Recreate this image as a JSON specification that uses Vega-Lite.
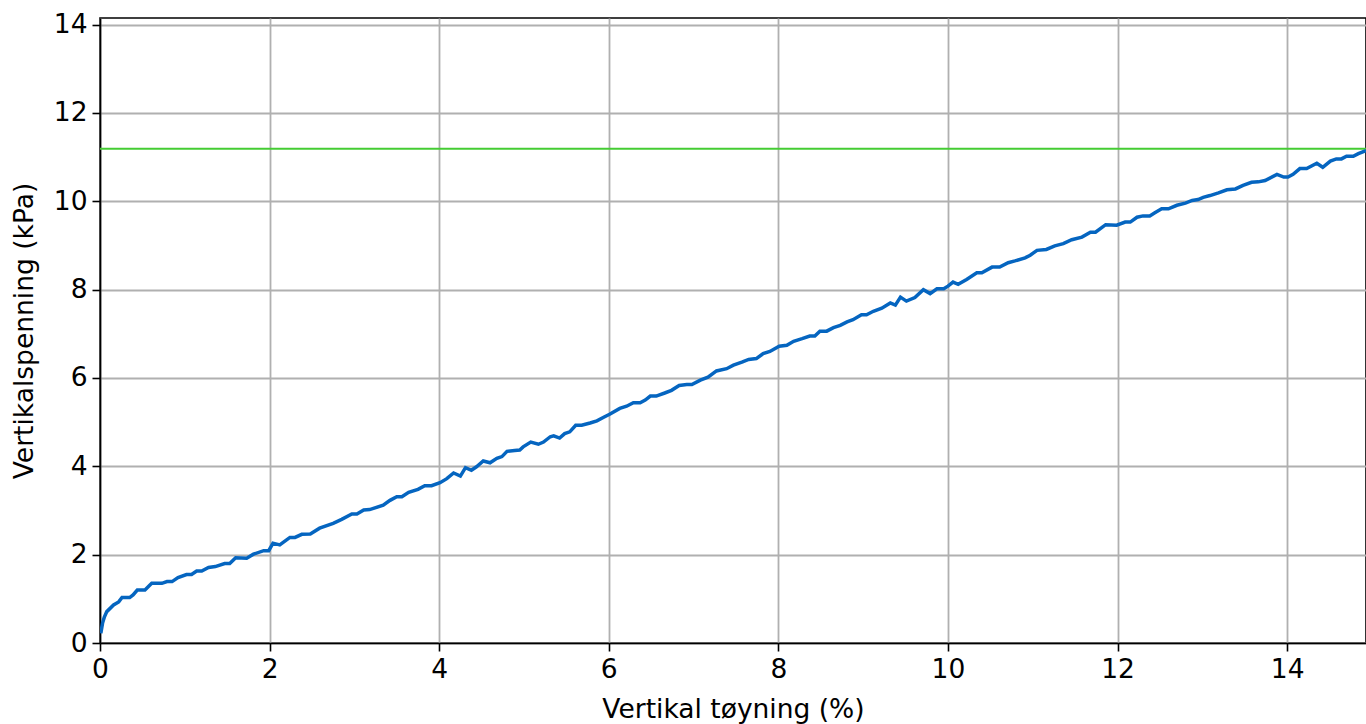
{
  "$schema": "https://vega.github.io/schema/vega-lite/v6.json",
  "width": 1266,
  "height": 625,
  "autosize": "none",
  "padding": {"left": 100, "top": 18, "right": 0, "bottom": 81},
  "background": "white",
  "config": {
    "font": "DejaVu Sans",
    "view": {"stroke": "black", "strokeWidth": 1.6},
    "axis": {
      "domainColor": "black",
      "domainWidth": 1.6,
      "tickColor": "black",
      "tickWidth": 1.6,
      "tickSize": 8,
      "labelFont": "DejaVu Sans",
      "labelFontSize": 26.5,
      "labelColor": "black",
      "labelPadding": 5,
      "labelFlush": false,
      "labelOverlap": false,
      "titleFont": "DejaVu Sans",
      "titleFontSize": 26.5,
      "titleFontWeight": "normal",
      "titleColor": "black",
      "gridColor": "#b0b0b0",
      "gridWidth": 1.8,
      "gridOpacity": 1
    }
  },
  "datasets": {
    "curve": [
      {"strain": 0.01, "stress": 0.22}, {"strain": 0.03, "stress": 0.45}, {"strain": 0.05, "stress": 0.58}, {"strain": 0.08, "stress": 0.71},
      {"strain": 0.16, "stress": 0.86}, {"strain": 0.22, "stress": 0.93}, {"strain": 0.26, "stress": 1.03}, {"strain": 0.35, "stress": 1.03},
      {"strain": 0.39, "stress": 1.09}, {"strain": 0.44, "stress": 1.2}, {"strain": 0.53, "stress": 1.2}, {"strain": 0.61, "stress": 1.35},
      {"strain": 0.73, "stress": 1.35}, {"strain": 0.79, "stress": 1.39}, {"strain": 0.85, "stress": 1.39}, {"strain": 0.92, "stress": 1.48},
      {"strain": 1.02, "stress": 1.55}, {"strain": 1.08, "stress": 1.55}, {"strain": 1.14, "stress": 1.63}, {"strain": 1.2, "stress": 1.63},
      {"strain": 1.28, "stress": 1.71}, {"strain": 1.36, "stress": 1.73}, {"strain": 1.47, "stress": 1.8}, {"strain": 1.53, "stress": 1.8},
      {"strain": 1.6, "stress": 1.93}, {"strain": 1.73, "stress": 1.92}, {"strain": 1.81, "stress": 2.01}, {"strain": 1.93, "stress": 2.09},
      {"strain": 1.99, "stress": 2.09}, {"strain": 2.04, "stress": 2.26}, {"strain": 2.12, "stress": 2.22}, {"strain": 2.24, "stress": 2.39},
      {"strain": 2.3, "stress": 2.39}, {"strain": 2.38, "stress": 2.46}, {"strain": 2.48, "stress": 2.47}, {"strain": 2.59, "stress": 2.6},
      {"strain": 2.75, "stress": 2.71}, {"strain": 2.85, "stress": 2.8}, {"strain": 2.97, "stress": 2.92}, {"strain": 3.03, "stress": 2.92},
      {"strain": 3.11, "stress": 3.01}, {"strain": 3.18, "stress": 3.02}, {"strain": 3.34, "stress": 3.12}, {"strain": 3.42, "stress": 3.23},
      {"strain": 3.5, "stress": 3.31}, {"strain": 3.56, "stress": 3.31}, {"strain": 3.64, "stress": 3.41}, {"strain": 3.75, "stress": 3.48},
      {"strain": 3.83, "stress": 3.56}, {"strain": 3.91, "stress": 3.56}, {"strain": 4.01, "stress": 3.63}, {"strain": 4.09, "stress": 3.72},
      {"strain": 4.17, "stress": 3.85}, {"strain": 4.25, "stress": 3.78}, {"strain": 4.31, "stress": 3.97}, {"strain": 4.38, "stress": 3.91},
      {"strain": 4.44, "stress": 3.99}, {"strain": 4.52, "stress": 4.12}, {"strain": 4.6, "stress": 4.08}, {"strain": 4.68, "stress": 4.18},
      {"strain": 4.74, "stress": 4.22}, {"strain": 4.8, "stress": 4.34}, {"strain": 4.89, "stress": 4.36}, {"strain": 4.95, "stress": 4.37},
      {"strain": 4.99, "stress": 4.44}, {"strain": 5.08, "stress": 4.55}, {"strain": 5.17, "stress": 4.5}, {"strain": 5.23, "stress": 4.55},
      {"strain": 5.31, "stress": 4.67}, {"strain": 5.35, "stress": 4.69}, {"strain": 5.42, "stress": 4.64}, {"strain": 5.48, "stress": 4.74},
      {"strain": 5.54, "stress": 4.78}, {"strain": 5.61, "stress": 4.93}, {"strain": 5.68, "stress": 4.93}, {"strain": 5.78, "stress": 4.98},
      {"strain": 5.86, "stress": 5.03}, {"strain": 5.94, "stress": 5.11}, {"strain": 6.01, "stress": 5.18}, {"strain": 6.13, "stress": 5.31},
      {"strain": 6.21, "stress": 5.36}, {"strain": 6.29, "stress": 5.44}, {"strain": 6.37, "stress": 5.44}, {"strain": 6.43, "stress": 5.5},
      {"strain": 6.49, "stress": 5.59}, {"strain": 6.56, "stress": 5.59}, {"strain": 6.66, "stress": 5.66}, {"strain": 6.74, "stress": 5.72},
      {"strain": 6.83, "stress": 5.83}, {"strain": 6.92, "stress": 5.85}, {"strain": 6.98, "stress": 5.85}, {"strain": 7.08, "stress": 5.95},
      {"strain": 7.17, "stress": 6.02}, {"strain": 7.27, "stress": 6.16}, {"strain": 7.39, "stress": 6.21}, {"strain": 7.47, "stress": 6.29},
      {"strain": 7.57, "stress": 6.36}, {"strain": 7.65, "stress": 6.42}, {"strain": 7.74, "stress": 6.44}, {"strain": 7.82, "stress": 6.55},
      {"strain": 7.9, "stress": 6.6}, {"strain": 8.01, "stress": 6.72}, {"strain": 8.1, "stress": 6.74}, {"strain": 8.18, "stress": 6.83},
      {"strain": 8.28, "stress": 6.89}, {"strain": 8.37, "stress": 6.95}, {"strain": 8.43, "stress": 6.95}, {"strain": 8.49, "stress": 7.06},
      {"strain": 8.57, "stress": 7.06}, {"strain": 8.65, "stress": 7.14}, {"strain": 8.73, "stress": 7.19}, {"strain": 8.81, "stress": 7.27},
      {"strain": 8.88, "stress": 7.32}, {"strain": 8.98, "stress": 7.43}, {"strain": 9.04, "stress": 7.43}, {"strain": 9.12, "stress": 7.51},
      {"strain": 9.22, "stress": 7.58}, {"strain": 9.32, "stress": 7.7}, {"strain": 9.38, "stress": 7.65}, {"strain": 9.44, "stress": 7.83},
      {"strain": 9.51, "stress": 7.74}, {"strain": 9.61, "stress": 7.82}, {"strain": 9.71, "stress": 8.0}, {"strain": 9.79, "stress": 7.91},
      {"strain": 9.87, "stress": 8.02}, {"strain": 9.95, "stress": 8.02}, {"strain": 10.0, "stress": 8.08}, {"strain": 10.06, "stress": 8.17},
      {"strain": 10.12, "stress": 8.12}, {"strain": 10.22, "stress": 8.23}, {"strain": 10.34, "stress": 8.38}, {"strain": 10.4, "stress": 8.38},
      {"strain": 10.52, "stress": 8.51}, {"strain": 10.61, "stress": 8.51}, {"strain": 10.71, "stress": 8.61}, {"strain": 10.79, "stress": 8.65},
      {"strain": 10.91, "stress": 8.72}, {"strain": 10.97, "stress": 8.78}, {"strain": 11.05, "stress": 8.89}, {"strain": 11.16, "stress": 8.91},
      {"strain": 11.26, "stress": 8.99}, {"strain": 11.36, "stress": 9.04}, {"strain": 11.46, "stress": 9.13}, {"strain": 11.58, "stress": 9.19},
      {"strain": 11.68, "stress": 9.3}, {"strain": 11.74, "stress": 9.3}, {"strain": 11.86, "stress": 9.47}, {"strain": 11.99, "stress": 9.46},
      {"strain": 12.09, "stress": 9.53}, {"strain": 12.15, "stress": 9.53}, {"strain": 12.23, "stress": 9.64}, {"strain": 12.3, "stress": 9.67},
      {"strain": 12.38, "stress": 9.67}, {"strain": 12.44, "stress": 9.74}, {"strain": 12.52, "stress": 9.83}, {"strain": 12.6, "stress": 9.83},
      {"strain": 12.7, "stress": 9.91}, {"strain": 12.8, "stress": 9.96}, {"strain": 12.88, "stress": 10.02}, {"strain": 12.95, "stress": 10.04},
      {"strain": 13.01, "stress": 10.09}, {"strain": 13.09, "stress": 10.13}, {"strain": 13.19, "stress": 10.19}, {"strain": 13.29, "stress": 10.26},
      {"strain": 13.39, "stress": 10.28}, {"strain": 13.48, "stress": 10.36}, {"strain": 13.58, "stress": 10.43}, {"strain": 13.66, "stress": 10.44},
      {"strain": 13.74, "stress": 10.47}, {"strain": 13.88, "stress": 10.61}, {"strain": 13.96, "stress": 10.55}, {"strain": 14.01, "stress": 10.55},
      {"strain": 14.07, "stress": 10.61}, {"strain": 14.15, "stress": 10.74}, {"strain": 14.23, "stress": 10.74}, {"strain": 14.35, "stress": 10.86},
      {"strain": 14.42, "stress": 10.77}, {"strain": 14.51, "stress": 10.91}, {"strain": 14.58, "stress": 10.96}, {"strain": 14.64, "stress": 10.96},
      {"strain": 14.7, "stress": 11.02}, {"strain": 14.78, "stress": 11.02}, {"strain": 14.84, "stress": 11.08}, {"strain": 14.93, "stress": 11.15}
    ],
    "limit": [{"stress": 11.19}]
  },
  "layer": [
    {
      "data": {"name": "limit"},
      "mark": {"type": "rule", "color": "#44cc33", "strokeWidth": 2},
      "encoding": {
        "y": {"field": "stress", "type": "quantitative"}
      }
    },
    {
      "data": {"name": "curve"},
      "mark": {"type": "line", "color": "#0565c0", "strokeWidth": 3.5, "clip": true},
      "encoding": {
        "x": {
          "field": "strain",
          "type": "quantitative",
          "scale": {"domain": [0, 14.93], "nice": false, "zero": false},
          "axis": {"title": "Vertikal tøyning (%)", "values": [0, 2, 4, 6, 8, 10, 12, 14], "titlePadding": 14}
        },
        "y": {
          "field": "stress",
          "type": "quantitative",
          "scale": {"domain": [0, 14.15], "nice": false, "zero": false},
          "axis": {"title": "Vertikalspenning (kPa)", "values": [0, 2, 4, 6, 8, 10, 12, 14], "titlePadding": 15}
        }
      }
    }
  ]
}
